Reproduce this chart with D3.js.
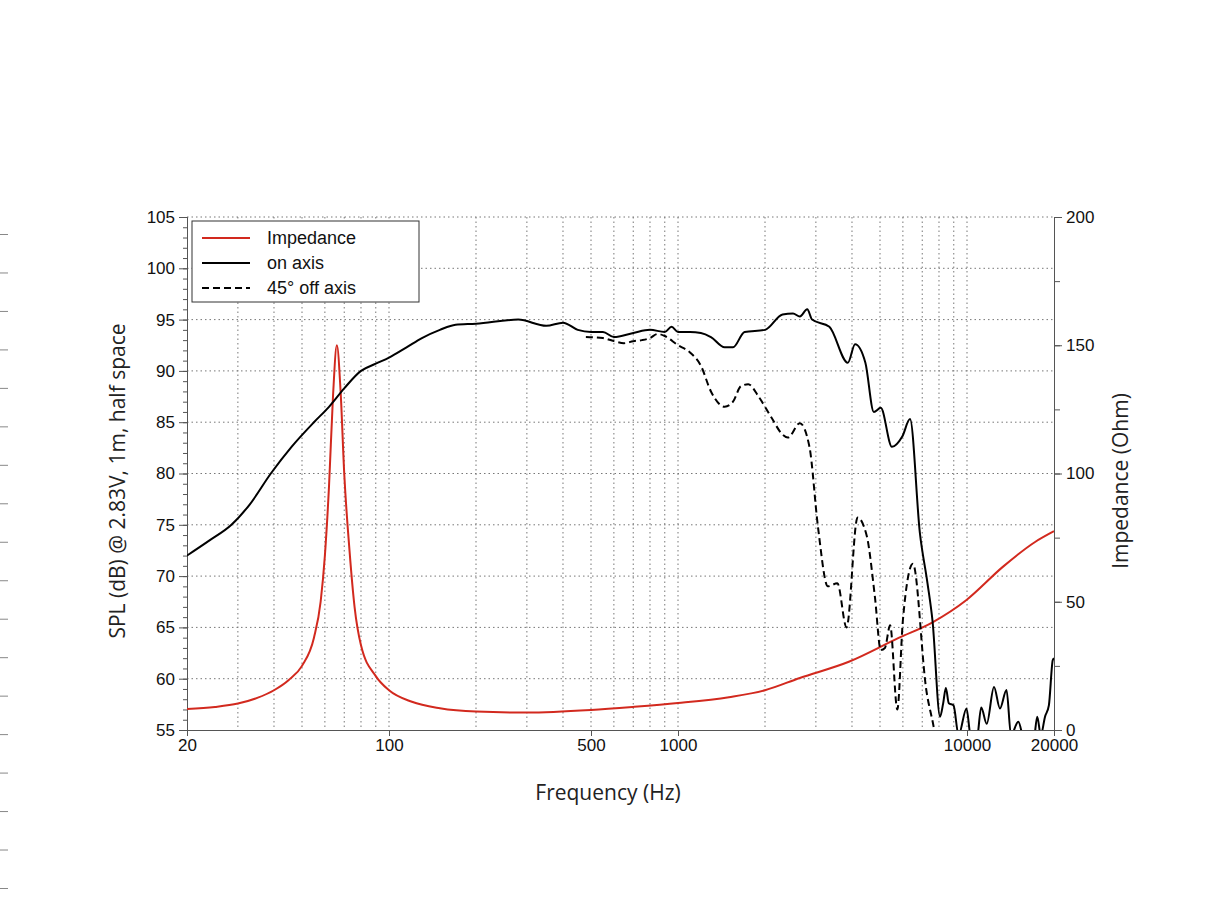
<!DOCTYPE html>
<html><head><meta charset="utf-8">
<script src="https://cdn.jsdelivr.net/npm/d3@7"></script>
<style>body{margin:0;background:#fff}</style></head>
<body><svg id="c" width="1220" height="915"></svg>
<script>
const freqTicks=[20,100,500,1000,10000,20000];
const splTicks=[55,60,65,70,75,80,85,90,95,100,105];
const impTicks=[0,50,100,150,200];
const onAxisF=[20,24,28.5,33,39,46,55,62,70,80,90,100,115,130,150,170,200,280,350,400,450,500,550,600,700,800,900,950,1000,1100,1200,1300,1450,1550,1700,2000,2300,2500,2640,2800,2910,3340,3870,4100,4450,4760,5030,5500,5970,6350,6870,7300,7600,8070,8270,8450,8650,8980,9350,9960,10280,10800,11200,11700,12400,13000,13700,14200,15050,15800,17000,17500,18000,18620,19200,19800,20000];
const onAxisDb=[72,73.5,75,77,80,82.6,85,86.5,88.3,90,90.7,91.3,92.3,93.2,94,94.5,94.6,95,94.4,94.7,94,93.8,93.8,93.3,93.7,94,93.8,94.3,93.8,93.8,93.7,93.3,92.3,92.3,93.8,94,95.5,95.6,95.3,96,95,94.3,90.8,92.6,90.8,86,86.4,82.6,83.6,85.3,74.2,69.3,65.6,56.3,57.6,59.1,57.6,57.4,54.5,57.1,54.5,54,57.2,55.6,59.2,57.1,58.9,54.5,55.8,54,54,56.3,54.5,56.3,57.4,61.8,62];
const offAxisF=[480,550,600,650,700,750,800,850,900,1000,1100,1200,1300,1450,1550,1650,1750,1900,2100,2300,2400,2640,2850,3050,3300,3560,3830,4180,4500,4800,5030,5200,5420,5740,6000,6500,7230,7700,7900];
const offAxisDb=[93.3,93.2,92.9,92.7,92.9,93,93.2,93.6,93.4,92.5,91.8,90.5,88,86.5,87,88.5,88.7,87.5,85.5,83.8,83.5,84.9,82.6,74.8,69,69.3,65,75.7,73.9,68,62.8,63,65.2,57,65.7,71.2,58.9,55,53];
const impF=[20,25,30,35,40,45,50,55,58,60,62,64,66,68,70,73,76,80,90,100,120,150,200,300,500,700,1000,1500,2000,2640,3900,5800,7600,9960,13300,17200,20000];
const impZ=[8.2,9,10.3,12.5,15.5,19.5,25,36,50,68,95,130,150,132,100,70,48,33,21,15.5,11,8.5,7.2,6.8,7.8,9,10.5,12.8,15.5,20.3,26.6,35.9,42,50.7,63.6,73.3,77.5];
const legendLabels=["Impedance","on axis","45° off axis"];

const svg=d3.select("#c");
const L=187,R=1054,T=217,B=730;
const x=d3.scaleLog().domain([20,20000]).range([L,R]);
const y=d3.scaleLinear().domain([55,105]).range([B,T]);
const yr=d3.scaleLinear().domain([0,200]).range([B,T]);
const tf="'Liberation Sans',Arial,sans-serif", hf="'Open Sans',sans-serif";

const edge=d3.scaleLinear().domain([0,17]).range([234,888]);
svg.append("g").call(d3.axisRight(edge).tickValues(d3.range(18)).tickSize(8).tickFormat(""))
 .call(g=>{g.select(".domain").remove();g.selectAll("line").attr("stroke","#888");});

const vgrid=[];
[10,100,1000,10000].forEach(d=>{for(let k=1;k<10;k++){const v=d*k;if(v>20&&v<20000)vgrid.push(v);}});
svg.append("g").selectAll("line").data(vgrid).join("line")
 .attr("x1",d=>x(d)).attr("x2",d=>x(d)).attr("y1",T).attr("y2",B)
 .attr("stroke","#777").attr("stroke-width",1).attr("stroke-dasharray","1.5,3");
svg.append("g").selectAll("line").data(splTicks.filter(d=>d>55)).join("line")
 .attr("x1",L).attr("x2",R).attr("y1",d=>y(d)).attr("y2",d=>y(d))
 .attr("stroke","#777").attr("stroke-width",1).attr("stroke-dasharray","1.5,3");

function style(g){g.selectAll("text").attr("font-family",tf).attr("font-size",17).attr("fill","#111");g.selectAll("line,path").attr("stroke","#555");}
svg.append("g").attr("transform",`translate(${L},0)`).call(d3.axisLeft(y).tickValues(d3.range(55,105.1,1)).tickSize(4).tickFormat(""))
 .call(g=>g.selectAll("line,path").attr("stroke","#555"));
svg.append("g").attr("transform",`translate(${L},0)`).call(d3.axisLeft(y).tickValues(splTicks).tickSize(8).tickPadding(4)).call(style);
svg.append("g").attr("transform",`translate(${R},0)`).call(d3.axisRight(yr).tickValues(d3.range(0,201,25)).tickSize(6).tickFormat(""))
 .call(g=>g.selectAll("line,path").attr("stroke","#555"));
svg.append("g").attr("transform",`translate(${R},0)`).call(d3.axisRight(yr).tickValues(impTicks).tickSize(8).tickPadding(4)).call(style);
svg.append("g").attr("transform",`translate(0,${B})`).call(d3.axisBottom(x).tickValues(freqTicks).tickSize(6).tickPadding(3).tickFormat(d3.format("d"))).call(style);

svg.append("clipPath").attr("id","cp").append("rect").attr("x",L).attr("y",T).attr("width",R-L).attr("height",B-T);
const g=svg.append("g").attr("clip-path","url(#cp)");
const cur=d3.curveMonotoneX;
g.append("path").datum(impF.map((f,i)=>[f,impZ[i]])).attr("fill","none").attr("stroke","#d2291e").attr("stroke-width",2)
 .attr("d",d3.line().x(d=>x(d[0])).y(d=>yr(d[1])).curve(cur));
g.append("path").datum(offAxisF.map((f,i)=>[f,offAxisDb[i]])).attr("fill","none").attr("stroke","#000").attr("stroke-width",2).attr("stroke-dasharray","7,4")
 .attr("d",d3.line().x(d=>x(d[0])).y(d=>y(d[1])).curve(cur));
g.append("path").datum(onAxisF.map((f,i)=>[f,onAxisDb[i]])).attr("fill","none").attr("stroke","#000").attr("stroke-width",2)
 .attr("d",d3.line().x(d=>x(d[0])).y(d=>y(d[1])).curve(cur));

const lg=svg.append("g");
lg.append("rect").attr("x",192).attr("y",221).attr("width",227).attr("height",81).attr("fill","#fff").attr("stroke","#333");
const styles=[["#d2291e",null],["#000",null],["#000","7,4"]];
legendLabels.forEach((t,i)=>{
 const yy=238+i*25;
 lg.append("line").attr("x1",202).attr("x2",250).attr("y1",yy).attr("y2",yy).attr("stroke",styles[i][0]).attr("stroke-width",2).attr("stroke-dasharray",styles[i][1]);
 lg.append("text").attr("x",267).attr("y",yy+6).text(t).attr("font-family",tf).attr("font-size",18).attr("fill","#111");
});

svg.append("text").attr("transform","translate(125,481) rotate(-90)").attr("text-anchor","middle").attr("font-family",hf).attr("font-size",21).attr("fill","#222").text("SPL (dB) @ 2.83V, 1m, half space");
svg.append("text").attr("transform","translate(1128,481) rotate(-90)").attr("text-anchor","middle").attr("font-family",hf).attr("font-size",21).attr("fill","#222").text("Impedance (Ohm)");
svg.append("text").attr("x",608).attr("y",800).attr("text-anchor","middle").attr("font-family",hf).attr("font-size",21).attr("fill","#222").text("Frequency (Hz)");
</script></body></html>
